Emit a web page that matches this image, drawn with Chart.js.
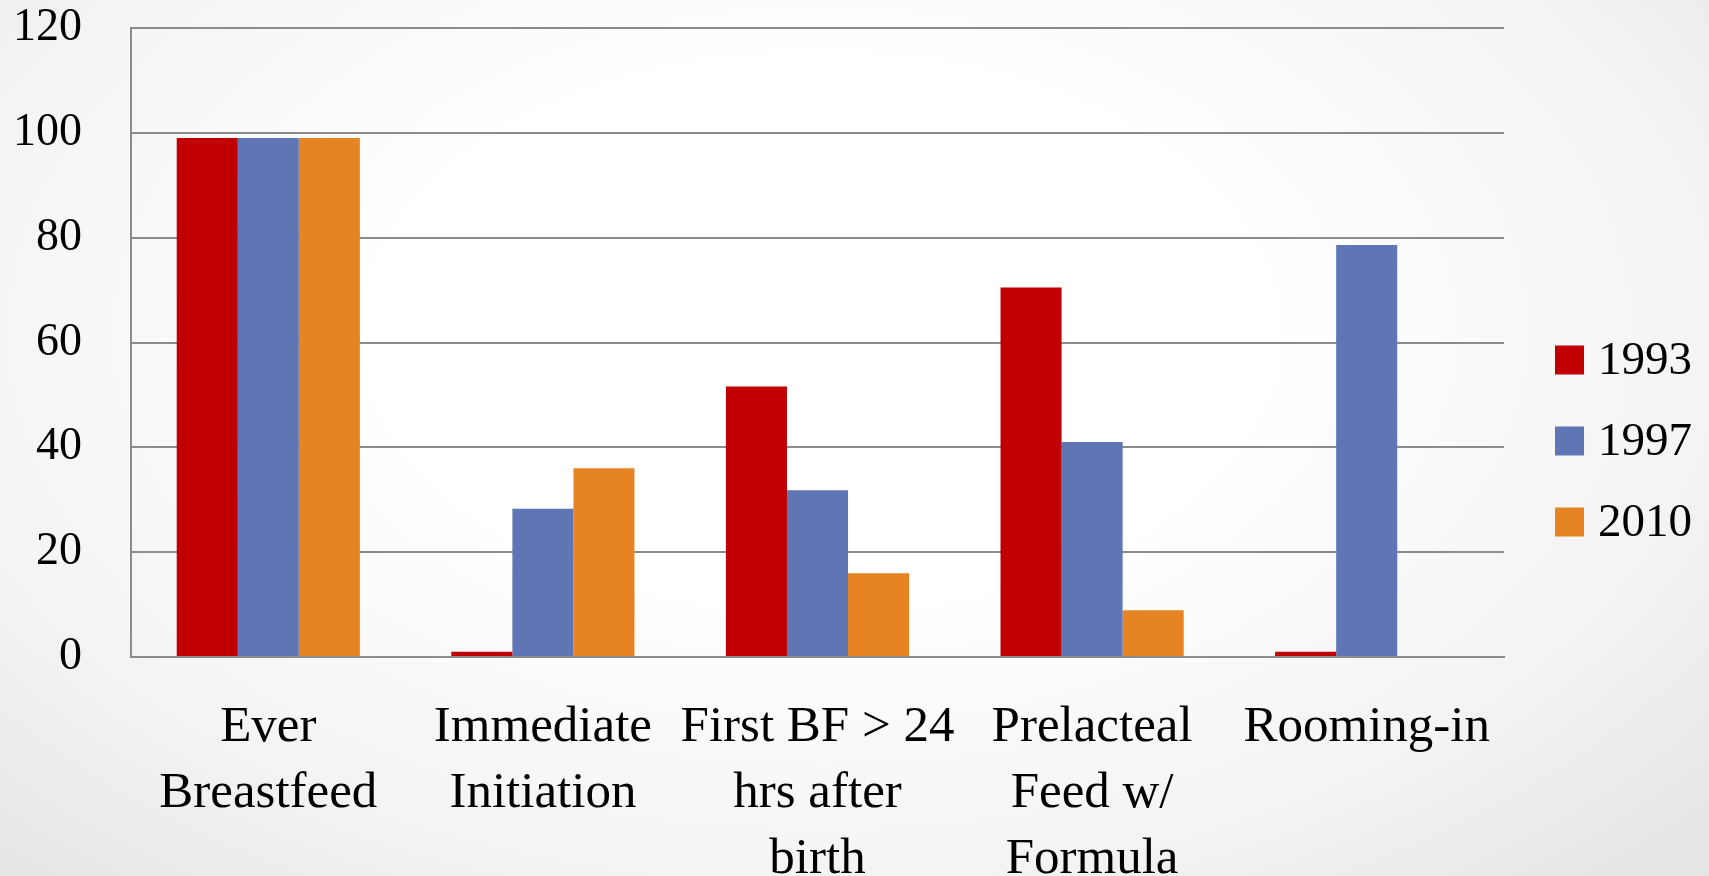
<!DOCTYPE html>
<html>
<head>
<meta charset="utf-8">
<script src="https://cdn.jsdelivr.net/npm/chart.js@4"></script>
<style>
  html, body { margin: 0; padding: 0; }
  body {
    width: 1709px;
    height: 876px;
    background: radial-gradient(ellipse at 48% 38%, #ffffff 35%, #f4f4f4 70%, #e4e4e4 100%);
    overflow: hidden;
  }
  #wrap { position: relative; width: 1709px; height: 876px; }
</style>
</head>
<body>
<div id="wrap"><canvas id="bars" width="1709" height="876"></canvas></div>
<script>
const categories = [
  ["Ever", "Breastfeed"],
  ["Immediate", "Initiation"],
  ["First BF > 24", "hrs after", "birth"],
  ["Prelacteal", "Feed w/", "Formula"],
  ["Rooming-in"]
];
const years = ["1993", "1997", "2010"];
const values1993 = [99, 1, 51.6, 70.5, 1];
const values1997 = [99, 28.3, 31.8, 41, 78.6];
const values2010 = [99, 36, 16, 8.9, null];
const yTicks = [0, 20, 40, 60, 80, 100, 120];

const colors = ["#C00000", "#6076B4", "#E68423"];
const fontFamily = "'Liberation Serif', 'Times New Roman', serif";
const gridColor = "#8c8c8c";

// legend drawn by hand to the right of the plot
const sideLegend = {
  id: "sideLegend",
  afterDraw(chart) {
    const ctx = chart.ctx;
    const x = chart.chartArea.right + 51;
    const step = 81;
    const size = 29;
    let y = 441 - step;
    ctx.save();
    ctx.font = "47px " + fontFamily;
    ctx.textBaseline = "middle";
    ctx.textAlign = "left";
    chart.data.datasets.forEach((ds) => {
      ctx.fillStyle = ds.backgroundColor;
      ctx.fillRect(x, y - size / 2, size, size);
      ctx.fillStyle = "#000";
      ctx.fillText(ds.label, x + size + 14, y + 2);
      y += step;
    });
    ctx.restore();
  }
};

new Chart(document.getElementById("bars"), {
  type: "bar",
  data: {
    labels: categories,
    datasets: [
      { label: years[0], data: values1993, backgroundColor: colors[0] },
      { label: years[1], data: values1997, backgroundColor: colors[1] },
      { label: years[2], data: values2010, backgroundColor: colors[2] }
    ]
  },
  options: {
    responsive: false,
    animation: false,
    devicePixelRatio: 1,
    categoryPercentage: 0.667,
    barPercentage: 1.0,
    layout: {
      padding: { top: 28, right: 205, left: 0, bottom: 0 }
    },
    scales: {
      x: {
        grid: { display: false, drawTicks: false },
        border: { display: true, color: gridColor, width: 2 },
        ticks: {
          color: "#000",
          font: { family: fontFamily, size: 51, lineHeight: 1.3 },
          padding: 37,
          maxRotation: 0,
          autoSkip: false
        },
        afterFit(scale) {
          scale.height = 219;
          scale.paddingLeft = 0;
          scale.paddingRight = 0;
        }
      },
      y: {
        min: 0,
        max: 120,
        afterBuildTicks(scale) {
          scale.ticks = yTicks.map((v) => ({ value: v }));
        },
        grid: { color: gridColor, lineWidth: 2, drawTicks: false },
        border: { display: true, color: gridColor, width: 2 },
        ticks: {
          color: "#000",
          font: { family: fontFamily, size: 46 },
          padding: 49
        },
        afterFit(scale) {
          scale.width = 131;
          scale.paddingTop = 0;
          scale.paddingBottom = 0;
        }
      }
    },
    plugins: {
      legend: { display: false },
      tooltip: { enabled: false }
    }
  },
  plugins: [sideLegend]
});
</script>
</body>
</html>
